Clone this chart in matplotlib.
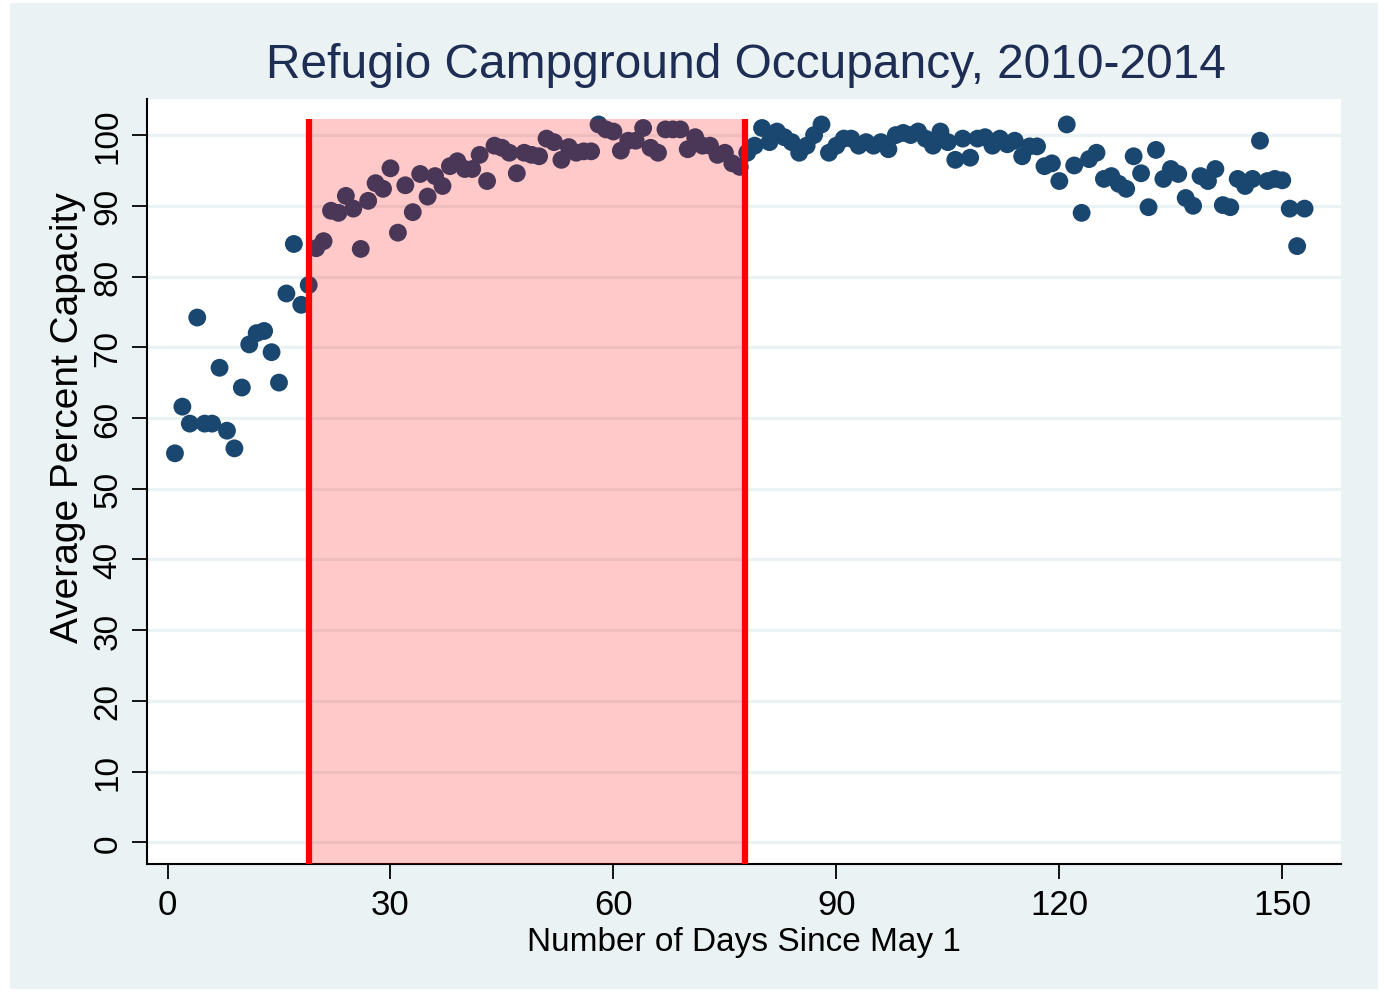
import numpy as np
import matplotlib
matplotlib.use('Agg')
from matplotlib import pyplot as plt
from matplotlib.patches import Rectangle

# days since May 1 (1..153) and average percent capacity
days = np.arange(1, 154)
capacity = [
    55.0, 61.6, 59.2, 74.2, 59.2, 59.2, 67.1, 58.2, 55.7, 64.3,
    70.4, 72.0, 72.3, 69.3, 65.0, 77.6, 84.6, 76.0, 78.8, 84.0,
    85.0, 89.3, 89.0, 91.4, 89.6, 83.9, 90.7, 93.2, 92.4, 95.3,
    86.2, 92.9, 89.1, 94.5, 91.3, 94.2, 92.8, 95.6, 96.3, 95.2,
    95.2, 97.2, 93.5, 98.5, 98.2, 97.5, 94.6, 97.5, 97.2, 97.0,
    99.5, 99.0, 96.5, 98.3, 97.5, 97.7, 97.7, 101.5, 100.8, 100.5,
    97.8, 99.2, 99.2, 101.0, 98.2, 97.5, 100.8, 100.8, 100.8, 98.0,
    99.7, 98.5, 98.5, 97.2, 97.5, 96.0, 95.5, 97.5, 98.5, 101.0,
    99.0, 100.5, 99.7, 99.0, 97.5, 98.5, 100.0, 101.5, 97.5, 98.5,
    99.5, 99.5, 98.5, 99.0, 98.5, 99.0, 98.0, 100.0, 100.3, 100.0,
    100.5, 99.5, 98.5, 100.5, 99.0, 96.5, 99.5, 96.8, 99.5, 99.7,
    98.5, 99.5, 98.7, 99.2, 97.0, 98.4, 98.4, 95.6, 96.0, 93.5,
    101.5, 95.7, 89.0, 96.6, 97.5, 93.8, 94.2, 93.1, 92.4, 97.0,
    94.6, 89.8, 97.9, 93.8, 95.2, 94.5, 91.1, 90.0, 94.2, 93.5,
    95.2, 90.1, 89.8, 93.8, 92.8, 93.8, 99.2, 93.5, 93.8, 93.6,
    89.6, 84.3, 89.6,
]

# shaded window
window_start = 19
window_end = 77.7
window_top = 102.3

xticks = [0, 30, 60, 90, 120, 150]
yticks = list(range(0, 101, 10))

bg = '#EAF2F3'
navy = '#1A476F'

fig = plt.figure(figsize=(13.84, 9.95), dpi=100, facecolor='white')
fig.patches.append(Rectangle((10 / 1384, 5 / 995), 1368 / 1384, 986 / 995,
                             transform=fig.transFigure, facecolor=bg,
                             edgecolor='none', zorder=-10))

ax = fig.add_axes([147 / 1384, 130 / 995, 1194 / 1384, 765 / 995])
ax.set_facecolor('white')

ax.set_xlim(-2.76, 157.9)
ax.set_ylim(-3.07, 105.1)

for y in yticks:
    ax.axhline(y, color=bg, lw=2.3, zorder=0)

ax.scatter(days, capacity, s=165, color=navy, edgecolors='none', zorder=2)

ax.fill_between([window_start, window_end], -3.07, window_top,
                color='red', alpha=0.21, linewidth=0, zorder=3)
ax.vlines([window_start, window_end], -3.07, window_top, color='#FF0000',
          lw=4.5, zorder=4)

for s in ['top', 'right']:
    ax.spines[s].set_visible(False)
for s in ['left', 'bottom']:
    ax.spines[s].set_linewidth(1.5)
    ax.spines[s].set_color('black')

ax.set_xticks(xticks)
ax.set_yticks(yticks)
ax.set_xticklabels([str(v) for v in xticks], fontsize=25, family='Liberation Sans')
ax.set_yticklabels([str(v) for v in yticks], fontsize=24, rotation=90,
                   va='center', family='Liberation Sans')
ax.tick_params(axis='both', length=11, width=1.3, direction='out')
ax.tick_params(axis='x', pad=6)
ax.tick_params(axis='y', pad=6)

ax.set_xlabel('Number of Days Since May 1', fontsize=24,
              family='Liberation Sans', labelpad=4)
fig.text(68 / 1384, 1 - 418 / 995, 'Average Percent Capacity', rotation=90,
         fontsize=28, family='Liberation Sans', ha='center', va='center')

fig.text(746 / 1384, 1 - 66 / 995, 'Refugio Campground Occupancy, 2010-2014',
         fontsize=34.5, family='Liberation Sans', color='#1E2D53',
         ha='center', va='center')

fig.savefig('out.png', dpi=100, facecolor=fig.get_facecolor())
